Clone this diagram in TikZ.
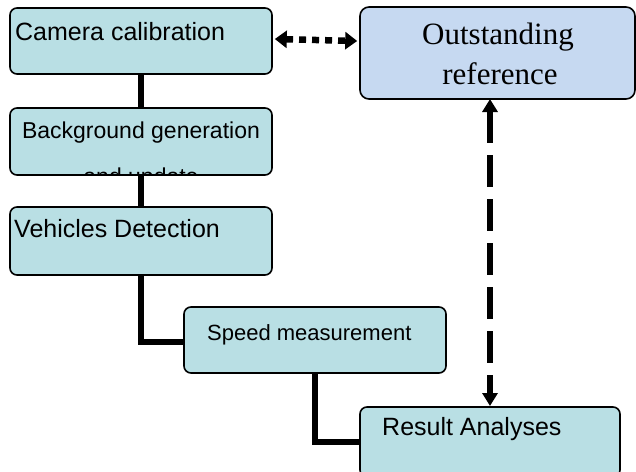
\documentclass[tikz,border=0pt]{standalone}
\usepackage{fontspec}
\setmainfont{Liberation Serif}
\newfontfamily\boxfont{Liberation Sans}
\usetikzlibrary{arrows.meta}
\definecolor{boxfill}{HTML}{B9DFE4}
\definecolor{reffill}{HTML}{C6D9F1}
\tikzset{
  stepbox/.style={draw=black, line width=1.6pt, rounded corners=7pt, fill=boxfill, inner sep=0pt},
  refbox/.style={draw=black, line width=1.6pt, rounded corners=9pt, fill=reffill, inner sep=0pt},
  boxtext/.style={inner sep=0pt, font=\boxfont\fontsize{25}{30}\selectfont},
  link/.style={line width=6pt, black},
  dotlink/.style={line width=6.5pt, dash pattern=on 7pt off 6pt, {Triangle[length=12pt,width=17pt]}-{Triangle[length=12pt,width=17pt]}},
  dashlink/.style={line width=5.5pt, dash pattern=on 32pt off 12pt, {Triangle[length=13pt,width=15pt]}-{Triangle[length=13pt,width=15pt]}}
}
\begin{document}
\begin{tikzpicture}[x=1pt,y=-1pt]
\clip (0,0) rectangle (636,471);
\fill[white] (0,0) rectangle (636,471);
% boxes
\node[stepbox, minimum width=262pt, minimum height=66pt] (b1) at (141,41) {};
\node[stepbox, minimum width=262pt, minimum height=67pt] (b2) at (141,141.5) {};
\node[stepbox, minimum width=262pt, minimum height=68pt] (b3) at (141,241) {};
\node[stepbox, minimum width=262pt, minimum height=66pt] (sp) at (315,340) {};
\node[stepbox, minimum width=260pt, minimum height=70pt] (res) at (490,442) {};
\node[refbox, minimum width=275pt, minimum height=92pt] (ref) at (497.5,53) {};
% texts
\node[boxtext, anchor=base west] (t1) at (15,40) {Camera calibration};
\begin{scope}
\clip[rounded corners=7pt] ([shift={(0.8pt,-0.8pt)}]b2.north west) rectangle ([shift={(-0.8pt,0.8pt)}]b2.south east);
\node[boxtext, anchor=base, font=\boxfont\fontsize{23}{28}\selectfont] (t2a) at (141,138) {Background generation};
\node[boxtext, anchor=base, font=\boxfont\fontsize{23}{28}\selectfont] (t2b) at (141,184) {and update};
\end{scope}
\node[boxtext, anchor=base west] (t3) at (14,237) {Vehicles Detection};
\node[boxtext, anchor=base west, font=\boxfont\fontsize{22}{27}\selectfont] (t4) at (207,340) {Speed measurement};
\node[boxtext, anchor=base west] (t5) at (382,435) {Result Analyses};
\node[inner sep=0pt, anchor=base, font=\fontsize{31}{36}\selectfont] (r1) at (498,44) {Outstanding};
\node[inner sep=0pt, anchor=base, font=\fontsize{31}{36}\selectfont] (r2) at (500,84) {reference};
% connectors
\draw[link] (b1.south) -- (b2.north);
\draw[link] (b2.south) -- (b3.north);
\draw[link] (b3.south) |- ([yshift=-2pt]sp.west);
\draw[link] (sp.south) |- (res.west);
\draw[dotlink] ([shift={(2pt,2pt)}]b1.east) -- ([shift={(-2pt,0pt)}]b1.east -| ref.west);
\coordinate (dtop) at (490,99);
\coordinate (dbot) at (490,406);
\draw[dashlink] (dtop) -- (dbot);
\end{tikzpicture}
\end{document}
